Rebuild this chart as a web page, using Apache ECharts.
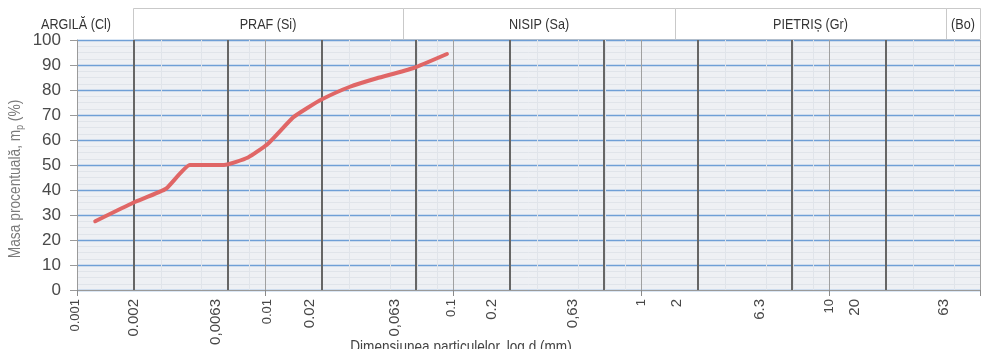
<!DOCTYPE html>
<html>
<head>
<meta charset="utf-8">
<title>Curba granulometrică</title>
<script src="https://cdn.jsdelivr.net/npm/echarts@6/dist/echarts.min.js"></script>
<style>
  html, body { margin: 0; padding: 0; background: #ffffff; }
  #chart { width: 984px; height: 349px; }
</style>
</head>
<body>
<div id="chart"></div>
<script>
// Particle size (mm) and cumulative passing mass (%)
const particleSizes = [0.00125, 0.002, 0.00297, 0.00398, 0.00604, 0.00811, 0.01035, 0.01406, 0.01667, 0.02004, 0.02823, 0.03926, 0.0610, 0.0925];
const passingPercent = [27.5, 35, 40.5, 50, 50, 53, 58.5, 69, 72.7, 76.3, 81.3, 84.7, 88.7, 94.4];

// Tick values along the size axis and the text shown for each
const sizeTicks = [0.001, 0.002, 0.0063, 0.01, 0.02, 0.063, 0.1, 0.2, 0.63, 1, 2, 6.3, 10, 20, 63];
const sizeTickLabels = ['0.001', '0.002', '0,0063', '0.01', '0.02', '0,063', '0.1', '0.2', '0,63', '1', '2', '6.3', '10', '20', '63'];

// Fraction boundaries drawn as heavy vertical rules
const fractionLines = [0.002, 0.0063, 0.02, 0.063, 0.2, 0.63, 2, 6.3, 20];

// Soil fraction names in the header strip
const fractionNames = ['PRAF (Si)', 'NISIP (Sa)', 'PIETRIȘ (Gr)', '(Bo)'];
const clayName = 'ARGILĂ (Cl)';

// Y axis range
const yMin = 0, yMax = 100, yStep = 10;

// ---- layout ----
const GRID = { left: 77, right: 4, top: 40, bottom: 59 };
const headerTop = 8;
const headerEdges = [133, 403, 675, 946, 980];
// small horizontal shifts of the size labels, in px
const labelNudge = [-2, 0, -12, 2, -12, -21, -2, -18, -31, 0, -21, -32, 0, -31, -36];
const sans = "'Liberation Sans', Arial, sans-serif";
const NARROW = 0.84; // horizontal squeeze giving a condensed face

const chart = echarts.init(document.getElementById('chart'), null, { renderer: 'canvas' });

const sizeRange = { min: 0.001, max: 63 };

const option = {
  animation: false,
  backgroundColor: '#ffffff',
  grid: {
    left: GRID.left, right: GRID.right, top: GRID.top, bottom: GRID.bottom,
    show: true, backgroundColor: '#eef0f4', borderWidth: 0
  },
  xAxis: [
    {
      // decade axis: thin rules and ticks
      type: 'log',
      logBase: 10,
      min: sizeRange.min,
      max: sizeRange.max,
      position: 'bottom',
      z: 1,
      axisLine: { show: true, lineStyle: { color: '#9a9a9a', width: 1 } },
      axisTick: { show: true, length: 6, lineStyle: { color: '#8a8a8a' } },
      axisLabel: { show: false },
      splitLine: { show: true, lineStyle: { color: '#a0a0a0', width: 1 } },
      minorTick: { show: false, splitNumber: 5 },
      minorSplitLine: { show: true, lineStyle: { color: '#e0e4ea', width: 1 } }
    },
    {
      // fraction boundary axis: heavy rules only
      type: 'log',
      logBase: 10,
      min: sizeRange.min,
      max: sizeRange.max,
      position: 'top',
      z: 1,
      axisLine: { show: false },
      axisTick: { show: false, customValues: fractionLines },
      axisLabel: { show: false },
      splitLine: { show: true, showMinLine: true, showMaxLine: true, lineStyle: { color: '#666666', width: 2 } }
    }
  ],
  yAxis: {
    type: 'value',
    min: yMin,
    max: yMax,
    interval: yStep,
    z: 1,
    axisLine: { show: true, lineStyle: { color: '#9a9a9a', width: 1 } },
    axisTick: { show: true, length: 7, inside: false, lineStyle: { color: '#9a9a9a' } },
    axisLabel: { color: '#4a4a4a', fontSize: 17, fontFamily: sans, margin: 16 },
    splitLine: { show: true, lineStyle: { color: '#6f9fd6', width: 1.3 } },
    minorTick: { show: false, splitNumber: 4 },
    minorSplitLine: { show: true, lineStyle: { color: '#e0e4ea', width: 1 } }
  },
  series: [
    {
      name: 'Masa procentuală',
      type: 'line',
      xAxisIndex: 0,
      z: 10,
      data: particleSizes.map((d, i) => [d, passingPercent[i]]),
      showSymbol: false,
      smooth: 0.15,
      lineStyle: { color: '#e06666', width: 4, cap: 'round', join: 'round' }
    }
  ]
};

chart.setOption(option);

// header strip, rotated size labels and axis titles
const graphics = [];

graphics.push({
  type: 'text', x: 76, y: 25, scaleX: NARROW,
  style: { text: clayName, fontSize: 15, fontFamily: sans, fill: '#333', align: 'center', verticalAlign: 'middle' }
});
fractionNames.forEach((name, i) => {
  const x0 = headerEdges[i], x1 = headerEdges[i + 1];
  graphics.push({
    type: 'rect',
    shape: { x: x0 + 0.5, y: headerTop + 0.5, width: x1 - x0, height: GRID.top - headerTop - 1 },
    style: { fill: '#ffffff', stroke: '#c9c9c9', lineWidth: 1 }
  });
  graphics.push({
    type: 'text', x: (x0 + x1) / 2, y: 25, scaleX: NARROW,
    style: { text: name, fontSize: 15, fontFamily: sans, fill: '#333', align: 'center', verticalAlign: 'middle' }
  });
});

const axisBottom = 349 - GRID.bottom;
sizeTicks.forEach((v, i) => {
  const px = chart.convertToPixel({ xAxisIndex: 0 }, v);
  const isDecade = Math.abs(Math.log10(v) - Math.round(Math.log10(v))) < 1e-9;
  graphics.push({
    type: 'text',
    x: px + labelNudge[i],
    y: axisBottom + 9,
    rotation: Math.PI / 2,
    style: {
      text: sizeTickLabels[i],
      fontSize: isDecade ? 13 : 15,
      fontFamily: sans,
      fill: '#474747',
      align: 'right',
      verticalAlign: 'middle'
    }
  });
});

graphics.push({
  type: 'text', x: 461, y: 347, scaleX: 0.8,
  style: {
    text: 'Dimensiunea particulelor, log d (mm)',
    fontSize: 17, fontFamily: sans, fill: '#444', align: 'center', verticalAlign: 'middle'
  }
});

graphics.push({
  type: 'text', x: 16, y: 179, rotation: Math.PI / 2, scaleX: 0.86,
  style: {
    text: '{a|Masa procentuală, m}{s|p}{a| (%)}',
    fill: '#777',
    align: 'center',
    verticalAlign: 'middle',
    rich: {
      a: { fontSize: 16, fontFamily: sans, fill: '#7a7a7a', lineHeight: 18 },
      s: { fontSize: 10, fontFamily: sans, fill: '#7a7a7a', verticalAlign: 'bottom', lineHeight: 18 }
    }
  }
});

chart.setOption({ graphic: graphics });
</script>
</body>
</html>
